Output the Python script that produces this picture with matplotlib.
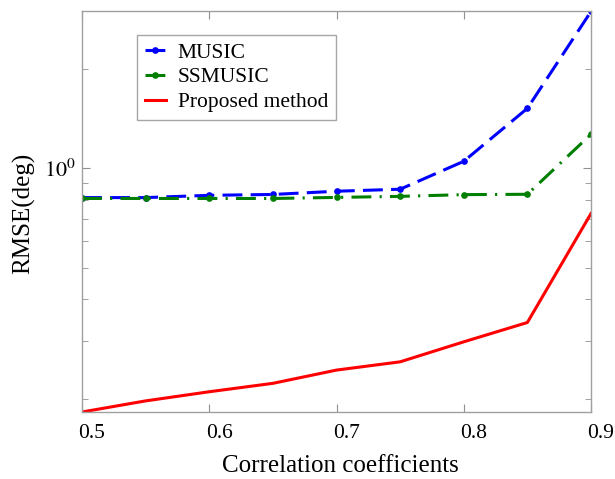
import matplotlib
matplotlib.use("Agg")
import matplotlib.pyplot as plt
import matplotlib.transforms as mtransforms
from matplotlib.ticker import LogLocator, NullFormatter, FixedLocator

plt.rcParams['font.family'] = ['Liberation Serif', 'DejaVu Serif']
plt.rcParams['mathtext.fontset'] = 'stix'

x = [0.5, 0.55, 0.6, 0.65, 0.7, 0.75, 0.8, 0.85, 0.9]
music = [0.815, 0.815, 0.828, 0.833, 0.852, 0.864, 1.05, 1.52, 2.99]
ssmusic = [0.810, 0.810, 0.810, 0.810, 0.816, 0.822, 0.832, 0.834, 1.268]
proposed = [0.1823, 0.197, 0.210, 0.2227, 0.2443, 0.2588, 0.2976, 0.3406, 0.729]

xticks = [0.5, 0.6, 0.7, 0.8, 0.9]
xticklabels = ['0.5', '0.6', '0.7', '0.8', '0.9']

W, H = 615, 479
fig = plt.figure(figsize=(W / 100, H / 100), dpi=100)
ax = fig.add_axes([82 / W, 1 - 412 / H, (591 - 82) / W, (412 - 11) / H])

ax.plot(x, music, color='#0000ff', linestyle=(0, (6.5, 2.7)), linewidth=2.2,
        marker='o', markersize=3.8, label='MUSIC')
ax.plot(x, ssmusic, color='#007f00', linestyle=(0, (6.5, 2.7, 0.7, 2.7)), linewidth=2.2,
        marker='o', markersize=3.8, label='SSMUSIC')
ax.plot(x, proposed, color='#ff0000', linestyle='-', linewidth=2.2, label='Proposed method')

ax.set_yscale('log')
ax.set_xlim(0.5, 0.9)
ax.set_ylim(0.1823, 3.0)
ax.set_xticks(xticks)
ax.set_xticklabels(xticklabels)
ax.yaxis.set_major_locator(FixedLocator([1.0]))
ax.yaxis.set_minor_locator(LogLocator(base=10, subs=range(2, 10), numticks=20))
ax.yaxis.set_minor_formatter(NullFormatter())
ax.set_yticklabels([r'$10^0$'])

for s in ax.spines.values():
    s.set_color('#a0a0a0')
    s.set_linewidth(1.0)
ax.tick_params(which='both', direction='in', color='#909090', top=True, right=True)
ax.tick_params(axis='x', labelsize=15.5, pad=9)
ax.tick_params(axis='y', labelsize=16, pad=4)
ax.tick_params(which='major', length=6)
ax.tick_params(which='minor', length=4)

offset = mtransforms.ScaledTranslation(10 / 100, 0, fig.dpi_scale_trans)
for lab in ax.get_xticklabels():
    lab.set_transform(lab.get_transform() + offset)

fig.text(340 / W, 1 - 472 / H, 'Correlation coefficients', fontsize=18,
         ha='center', va='baseline')
fig.text(24 / W, 1 - 213 / H, 'RMSE(deg)', fontsize=18, rotation=90,
         ha='center', va='center')

leg = ax.legend(loc='upper left', fontsize=15.5, frameon=True, fancybox=False,
                handlelength=1.0, handletextpad=0.55, borderpad=0.35,
                labelspacing=0.22, borderaxespad=0)
leg.set_bbox_to_anchor((137 / W, 1 - 35 / H), transform=fig.transFigure)
leg.get_frame().set_edgecolor('#909090')
leg.get_frame().set_linewidth(1.0)

fig.savefig('out.png', dpi=100)
